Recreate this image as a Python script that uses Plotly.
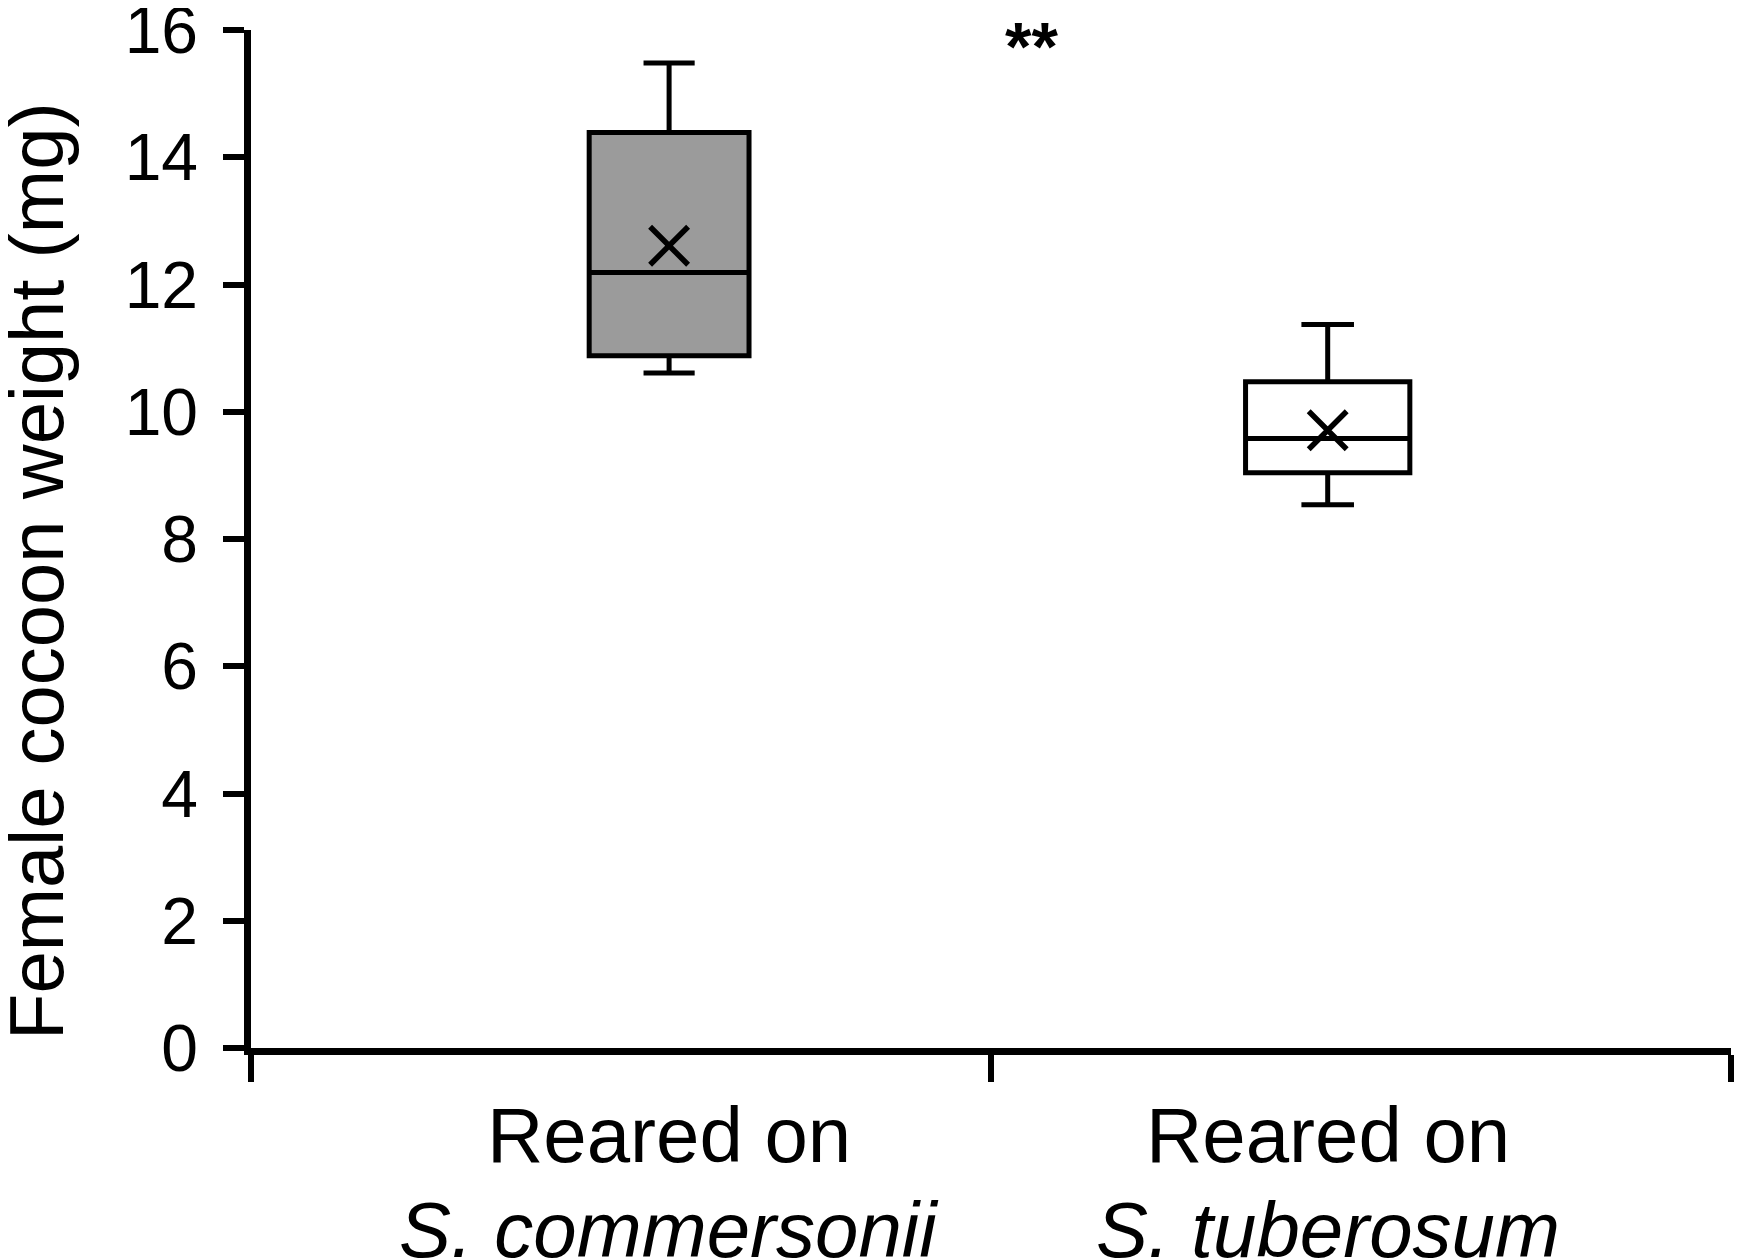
import plotly.graph_objects as go

# Data
categories = ["S. commersonii", "S. tuberosum"]
cat_line1 = ["Reared on", "Reared on"]
lower_whisker = [10.61, 8.54]
q1_vals = [10.88, 9.04]
median_vals = [12.19, 9.58]
q3_vals = [14.39, 10.47]
upper_whisker = [15.48, 11.37]
mean_vals = [12.61, 9.71]
y_ticks = [0, 2, 4, 6, 8, 10, 12, 14, 16]
signif_label = "**"

# Layout constants
positions = [0.565, 1.455]
box_widths = [0.216, 0.222]
fills = ["#9b9b9b", "#ffffff"]
FONT = "Liberation Sans, Arial, sans-serif"

fig = go.Figure()
for i, cat in enumerate(categories):
    fig.add_trace(go.Box(
        x=[positions[i]],
        q1=[q1_vals[i]], median=[median_vals[i]], q3=[q3_vals[i]],
        lowerfence=[lower_whisker[i]], upperfence=[upper_whisker[i]],
        width=box_widths[i], whiskerwidth=0.32,
        fillcolor=fills[i],
        line=dict(color="black", width=5),
        boxpoints=False, showlegend=False, hoverinfo="skip",
    ))

fig.add_trace(go.Scatter(
    x=positions, y=mean_vals, mode="markers",
    marker=dict(symbol="x-thin", size=38, line=dict(color="black", width=5.5)),
    showlegend=False, hoverinfo="skip",
))

annotations = []
for i, cat in enumerate(categories):
    annotations.append(dict(x=positions[i], xref="x", y=-0.085, yref="paper",
                            text=cat_line1[i], showarrow=False, xanchor="center", yanchor="middle",
                            font=dict(family=FONT, size=78, color="black")))
    annotations.append(dict(x=positions[i], xref="x", y=-0.179, yref="paper",
                            text="<i>" + cat + "</i>", showarrow=False, xanchor="center", yanchor="middle",
                            font=dict(family=FONT, size=78, color="black")))
annotations.append(dict(x=-0.1454, xref="paper", y=0.4684, yref="paper",
                        text="Female cocoon weight (mg)", textangle=-90, showarrow=False,
                        xanchor="center", yanchor="middle",
                        font=dict(family=FONT, size=76, color="black")))
annotations.append(dict(x=1.055, xref="x", y=15.75, yref="y",
                        text="<b>" + signif_label + "</b>", showarrow=False, xanchor="center", yanchor="middle",
                        font=dict(family=FONT, size=68, color="black")))

# The page body adds an 8px margin, so the figure is 8px smaller than the window
fig.update_layout(
    width=1735, height=1252,
    margin=dict(l=243, r=12, t=22, b=211.5),
    paper_bgcolor="white", plot_bgcolor="white",
    annotations=annotations,
    xaxis=dict(range=[0, 2], tickvals=[0, 1, 2], ticktext=["", "", ""],
               showline=True, linecolor="black", linewidth=6.5,
               ticks="outside", ticklen=27, tickwidth=6, tickcolor="black",
               showgrid=False, zeroline=False, fixedrange=True, automargin=False),
    yaxis=dict(range=[0, 16], tickvals=y_ticks, ticktext=[str(v) for v in y_ticks],
               showline=True, linecolor="black", linewidth=6.5,
               ticks="outside", ticklen=21, tickwidth=6, tickcolor="black",
               ticklabelstandoff=12, ticklabeloverflow="allow",
               tickfont=dict(family=FONT, size=66, color="black"),
               showgrid=False, zeroline=False, fixedrange=True, automargin=False),
)

fig.write_html("out.html")
